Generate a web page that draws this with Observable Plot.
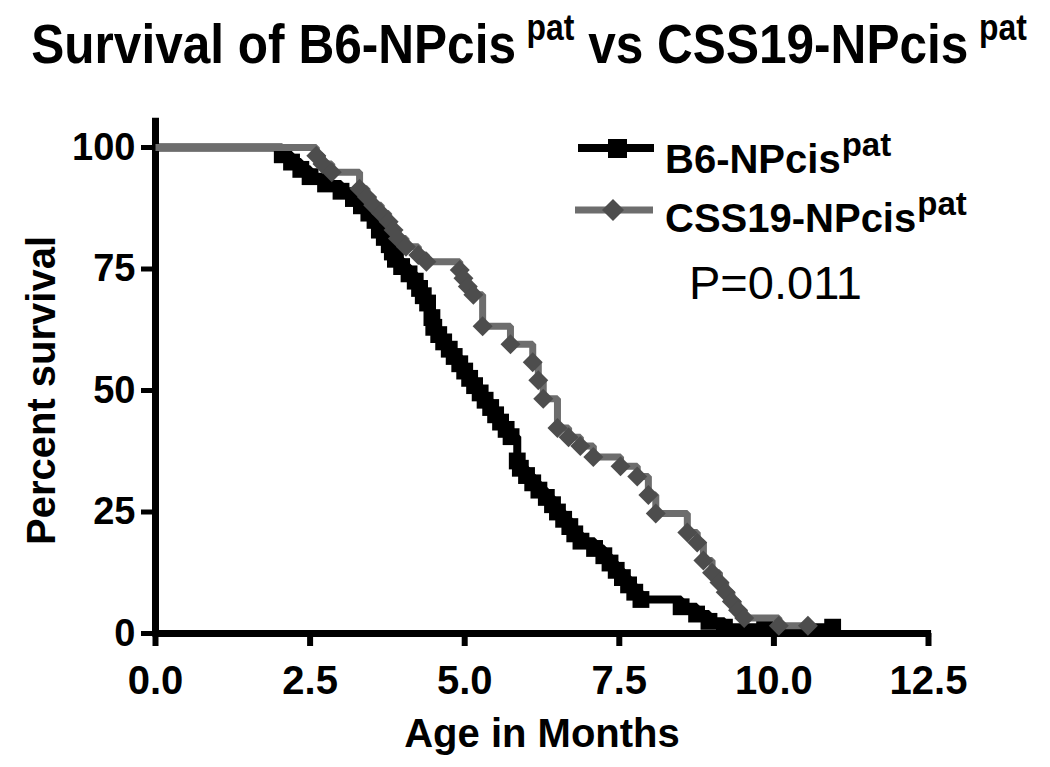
<!DOCTYPE html>
<html>
<head>
<meta charset="utf-8">
<script src="https://cdn.jsdelivr.net/npm/d3@7"></script>
<script src="https://cdn.jsdelivr.net/npm/@observablehq/plot@0.6"></script>
<style>
  body { margin: 0; background: #fff; font-family: "Liberation Sans", Arial, sans-serif; }
  #wrap { position: relative; width: 1050px; height: 767px; overflow: hidden; }
  #title { position: relative; height: 92px; }
  #title .t { position: absolute; left: -71px; top: 16px; width: 1200px; text-align: center;
              font-weight: bold; font-size: 56px; line-height: 56px; white-space: nowrap;
              transform: scaleX(0.885); transform-origin: 50% 50%; }
  #title .sup { font-size: 36px; position: relative; top: -23px; margin-left: 12px; }
  .leg { position: absolute; font-weight: bold; font-size: 40px; line-height: 40px; white-space: nowrap; }
  .leg .sup { font-size: 33px; position: relative; top: -17px; margin-left: 1px; }
  #pval { position: absolute; left: 689px; top: 259px; font-size: 47px; line-height: 47px; white-space: nowrap; }
  svg.sw { position: absolute; overflow: visible; }
</style>
</head>
<body>
<div id="wrap">
  <div id="title"><div class="t">Survival of B6-NPcis<span class="sup">pat</span> vs CSS19-NPcis<span class="sup">pat</span></div></div>
  <div id="chart"></div>
  <svg class="sw" style="left:0;top:0" width="1050" height="767">
    <line x1="578" x2="654" y1="148" y2="148" stroke="#000" stroke-width="8"/>
    <rect x="608" y="139" width="19" height="19" fill="#000"/>
    <line x1="575" x2="653" y1="210" y2="210" stroke="#6d6d6d" stroke-width="7"/>
    <polygon points="613,199 624,210 613,221 602,210" fill="#4d4d4d"/>
  </svg>
  <div class="leg" style="left:665px;top:139px">B6-NPcis<span class="sup">pat</span></div>
  <div class="leg" style="left:665px;top:198px">CSS19-NPcis<span class="sup">pat</span></div>
  <div id="pval">P=0.011</div>
</div>
<script>
// ---- data (months, percent survival after each step) ----
const b6Months = [0, 2.05, 2.2, 2.35, 2.5, 2.75, 3.0, 3.2, 3.33, 3.45, 3.55, 3.62, 3.7, 3.78, 3.83, 3.88, 3.98, 4.1, 4.2, 4.27, 4.33, 4.4, 4.47, 4.5, 4.58, 4.66, 4.75, 4.83, 4.92, 5.0, 5.08, 5.16, 5.25, 5.33, 5.42, 5.5, 5.58, 5.67, 5.75, 5.85, 5.9, 6.0, 6.1, 6.2, 6.32, 6.42, 6.5, 6.6, 6.7, 6.78, 6.88, 7.1, 7.25, 7.35, 7.45, 7.55, 7.65, 7.75, 7.85, 8.5, 8.75, 8.95, 9.2, 9.85, 10.95];
const b6Survival = [100, 98.5, 97, 95.5, 94, 92.5, 91, 89.5, 88, 86.5, 85, 83, 81.5, 80, 78.5, 77, 75.5, 74, 72.5, 71, 69.5, 68, 65, 63, 61.5, 60, 58.5, 57, 55.5, 54, 52.5, 51, 49.5, 48, 46.5, 45, 43.5, 42, 40.5, 35.5, 34, 32.5, 31, 29.5, 28, 26.5, 25, 23.5, 22, 20.5, 19, 17.5, 16, 14.5, 13, 11.5, 10, 8.5, 7, 5.5, 4, 2.5, 1.3, 1.3, 1.3];

const cssMonths = [0, 2.6, 2.7, 2.85, 3.3, 3.42, 3.52, 3.65, 3.77, 3.85, 3.92, 4.05, 4.25, 4.38, 4.92, 4.98, 5.05, 5.14, 5.29, 5.74, 6.1, 6.19, 6.27, 6.5, 6.68, 6.87, 7.08, 7.52, 7.79, 7.97, 8.09, 8.6, 8.76, 8.86, 9.0, 9.12, 9.22, 9.32, 9.42, 9.52, 10.08, 10.55];
const cssSurvival = [100, 98.3, 96.6, 94.9, 91.5, 89.8, 88.1, 86.4, 84.7, 83, 81.3, 79.6, 77.9, 76.5, 74.8, 73.1, 71.4, 69.7, 63.2, 59.5, 55.8, 52.1, 48.3, 42.3, 40.4, 38.6, 36.3, 34.4, 32.3, 28.5, 24.7, 20.8, 18.7, 15, 12.5, 10.5, 8.5, 6.6, 4.8, 3.2, 1.6, 1.6];

const xTicks = [0, 2.5, 5, 7.5, 10, 12.5];
const yTicks = [0, 25, 50, 75, 100];
const xLabel = "Age in Months";
const yLabel = "Percent survival";

const b6 = b6Months.map((t, i) => ({t, s: b6Survival[i]}));
const css = cssMonths.map((t, i) => ({t, s: cssSurvival[i]}));

const font = "'Liberation Sans', Arial, sans-serif";

const chart = Plot.plot({
  width: 1050,
  height: 675,
  marginTop: 55,
  marginBottom: 134,
  marginLeft: 155,
  marginRight: 122,
  x: {domain: [0, 12.5]},
  y: {domain: [0, 100]},
  style: {fontFamily: font, fontWeight: "bold", background: "white", overflow: "visible", color: "black"},
  marks: [
    Plot.axisX({ticks: xTicks, tickFormat: d3.format(".1f"), tickSize: 13, tickPadding: 19, strokeWidth: 6,
                fontSize: 40, fontWeight: "bold", label: null}),
    Plot.axisY({ticks: yTicks, tickSize: 14, tickPadding: 6, strokeWidth: 5,
                fontSize: 38, fontWeight: "bold", label: null}),
    Plot.ruleY([0], {x1: 0, x2: 12.55, stroke: "black", strokeWidth: 7}),
    Plot.ruleX([0], {y1: -0.7, y2: 106, stroke: "black", strokeWidth: 7}),
    Plot.text([xLabel], {frameAnchor: "bottom", dy: 101, fontSize: 40, fontWeight: "bold", lineAnchor: "middle", textAnchor: "middle", fill: "black"}),
    Plot.text([yLabel], {frameAnchor: "left", dx: -113, rotate: -90, fontSize: 40, fontWeight: "bold", lineAnchor: "middle", textAnchor: "middle", fill: "black"}),
    Plot.line(b6, {x: "t", y: "s", curve: "step-after", stroke: "black", strokeWidth: 8, strokeLinejoin: "miter", strokeLinecap: "butt"}),
    Plot.dot(b6.slice(1), {x: "t", y: "s", symbol: "square", r: 9.5, fill: "black", stroke: "none"}),
    Plot.line(css, {x: "t", y: "s", curve: "step-after", stroke: "#6d6d6d", strokeWidth: 7, strokeLinejoin: "miter", strokeLinecap: "butt"}),
    Plot.dot(css.slice(1), {x: "t", y: "s", symbol: "diamond2", r: 9, fill: "#4d4d4d", stroke: "none"})
  ]
});
document.getElementById("chart").appendChild(chart);
</script>
</body>
</html>
